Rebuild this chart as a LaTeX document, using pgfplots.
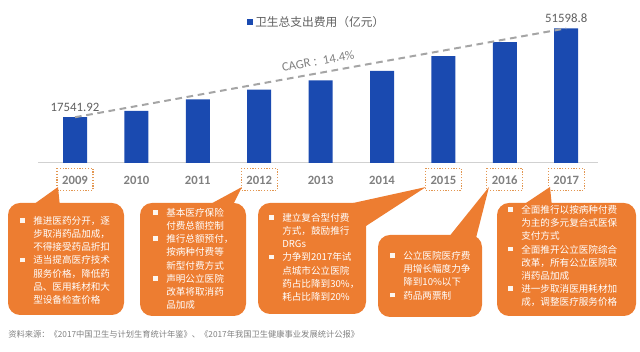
\documentclass[border=0pt]{standalone}
\usepackage{pgfplots}
\pgfplotsset{compat=1.18}
\usepackage{fontspec}
\setmainfont{Noto Sans CJK SC}
\newfontfamily\calib{Carlito}
\definecolor{barblue}{RGB}{26,74,176}
\definecolor{boxorange}{RGB}{237,125,49}
\definecolor{dotorange}{RGB}{226,150,80}
\definecolor{labgray}{RGB}{128,128,128}
\definecolor{txtgray}{RGB}{95,95,95}
\definecolor{dashgray}{RGB}{165,165,165}
\newcommand\bl{\makebox[9.75pt][l]{\raisebox{1.2pt}{\textcolor{white!92!boxorange}{\rule{3.6pt}{3.6pt}}}}}
\newcommand\ind{\hspace*{9.75pt}}
\begin{document}
\begin{tikzpicture}
\path[use as bounding box] (0pt,0pt) rectangle (480pt,264pt);
\begin{axis}[
  at={(28.5pt,141.75pt)}, anchor=south west,
  scale only axis, width=420pt, height=117.45pt,
  xmin=-0.603, xmax=8.518, ymin=0, ymax=60000,
  axis y line=none, axis x line*=bottom,
  x axis line style={draw=black!18, line width=0.75pt, -},
  major tick length=0pt,
  xtick={0,1,2,3,4,5,6,7,8},
  xticklabels={2009,2010,2011,2012,2013,2014,2015,2016,2017},
  xticklabel style={font=\calib\bfseries\fontsize{9.5}{9.5}\selectfont, text=labgray, anchor=center, yshift=-12.75pt},
  ytick=\empty,
  clip=false,
  legend style={at={(0.372,0.9)}, anchor=west, draw=none, fill=none, inner sep=0pt,
    font=\fontsize{8.8}{8.8}\selectfont, text=txtgray, legend cell align=left},
  legend image code/.code={\fill[#1] (0pt,-2.25pt) rectangle (4.5pt,2.25pt);},
]
\addplot[ybar, bar width=18pt, fill=barblue, draw=none] coordinates {
  (0,17541.92) (1,19980.39) (2,24345.91) (3,28119.00) (4,31668.95)
  (5,35312.40) (6,40974.64) (7,46344.88) (8,51598.8)};
\addlegendentry{卫生总支出费用（亿元）}
\addplot[forget plot, draw=dashgray, line width=1.5pt, dash pattern=on 5pt off 3.5pt,
  nodes near coords, point meta=explicit symbolic,
  every node near coord/.style={font=\calib\fontsize{9.6}{10}\selectfont, text=txtgray, anchor=south, inner sep=1pt, yshift=2.5pt}]
  coordinates {(0,17541.92) [17541.92] (8,51598.8) [51598.8]};
\pgfplotsinvokeforeach{0,3,6,7,8}{
  \draw[dotorange, line width=0.9pt, dash pattern=on 0.9pt off 1.2pt]
    (axis cs:#1,0) ++(-13.5pt,-3.9pt) rectangle ++(27pt,-16.5pt);
}
\end{axis}
\begin{scope}[shift={(0pt,264pt)}, x=0.75pt, y=-0.75pt]
% CAGR label
\node[rotate=10.3, text=labgray, font=\calib\fontsize{9.5}{10}\selectfont] at (318,61)
  {CAGR\,{\rmfamily\fontsize{8}{8}\selectfont ：}14.4\%};
% callout boxes
\begin{scope}[fill=boxorange]
\fill[rounded corners=9pt] (8,203) rectangle (124,315);
\fill (58,187) -- (30,207) -- (60,207) -- cycle;
\fill[rounded corners=9pt] (140,203) rectangle (246,316);
\fill (242,187) -- (205,207) -- (232,207) -- cycle;
\fill[rounded corners=9pt] (258,203) rectangle (366,314);
\fill (426,187) -- (335,207) -- (366,226) -- cycle;
\fill[rounded corners=9pt] (378,235) rectangle (482,317);
\fill (489,187) -- (448,238) -- (476,238) -- cycle;
\fill[rounded corners=9pt] (497,203) rectangle (636,316);
\fill (550,187) -- (520,207) -- (552,207) -- cycle;
\end{scope}
\tikzset{boxtxt/.style={anchor=north west, inner sep=0pt, align=left, text=white, font=\fontsize{7.2}{9.9}\selectfont}}
\node[boxtxt] at (20,216) {\bl 推进医药分开，逐\\ \ind 步取消药品加成，\\ \ind 不得接受药品折扣\\ \bl 适当提高医疗技术\\ \ind 服务价格，降低药\\ \ind 品、医用耗材和大\\ \ind 型设备检查价格};
\node[boxtxt] at (153,208) {\bl 基本医疗保险\\ \ind 付费总额控制\\ \bl 推行总额预付，\\ \ind 按病种付费等\\ \ind 新型付费方式\\ \bl 声明公立医院\\ \ind 改革将取消药\\ \ind 品加成};
\node[boxtxt] at (269,213) {\bl 建立复合型付费\\ \ind 方式，鼓励推行\\ \ind DRGs\\ \bl 力争到2017年试\\ \ind 点城市公立医院\\ \ind 药占比降到30\%，\\ \ind 耗占比降到20\%};
\node[boxtxt] at (390,251) {\bl 公立医院医疗费\\ \ind 用增长幅度力争\\ \ind 降到10\%以下\\ \bl 药品两票制};
\node[boxtxt] at (508,205) {\bl 全面推行以按病种付费\\ \ind 为主的多元复合式医保\\ \ind 支付方式\\ \bl 全面推开公立医院综合\\ \ind 改革，所有公立医院取\\ \ind 消药品加成\\ \bl 进一步取消医用耗材加\\ \ind 成，调整医疗服务价格};
\node[anchor=west, inner sep=0pt, text=labgray, font=\fontsize{6.2}{7}\selectfont] at (8,334)
  {资料来源：《2017中国卫生与计划生育统计年鉴》、《2017年我国卫生健康事业发展统计公报》};
\end{scope}
\end{tikzpicture}
\end{document}
